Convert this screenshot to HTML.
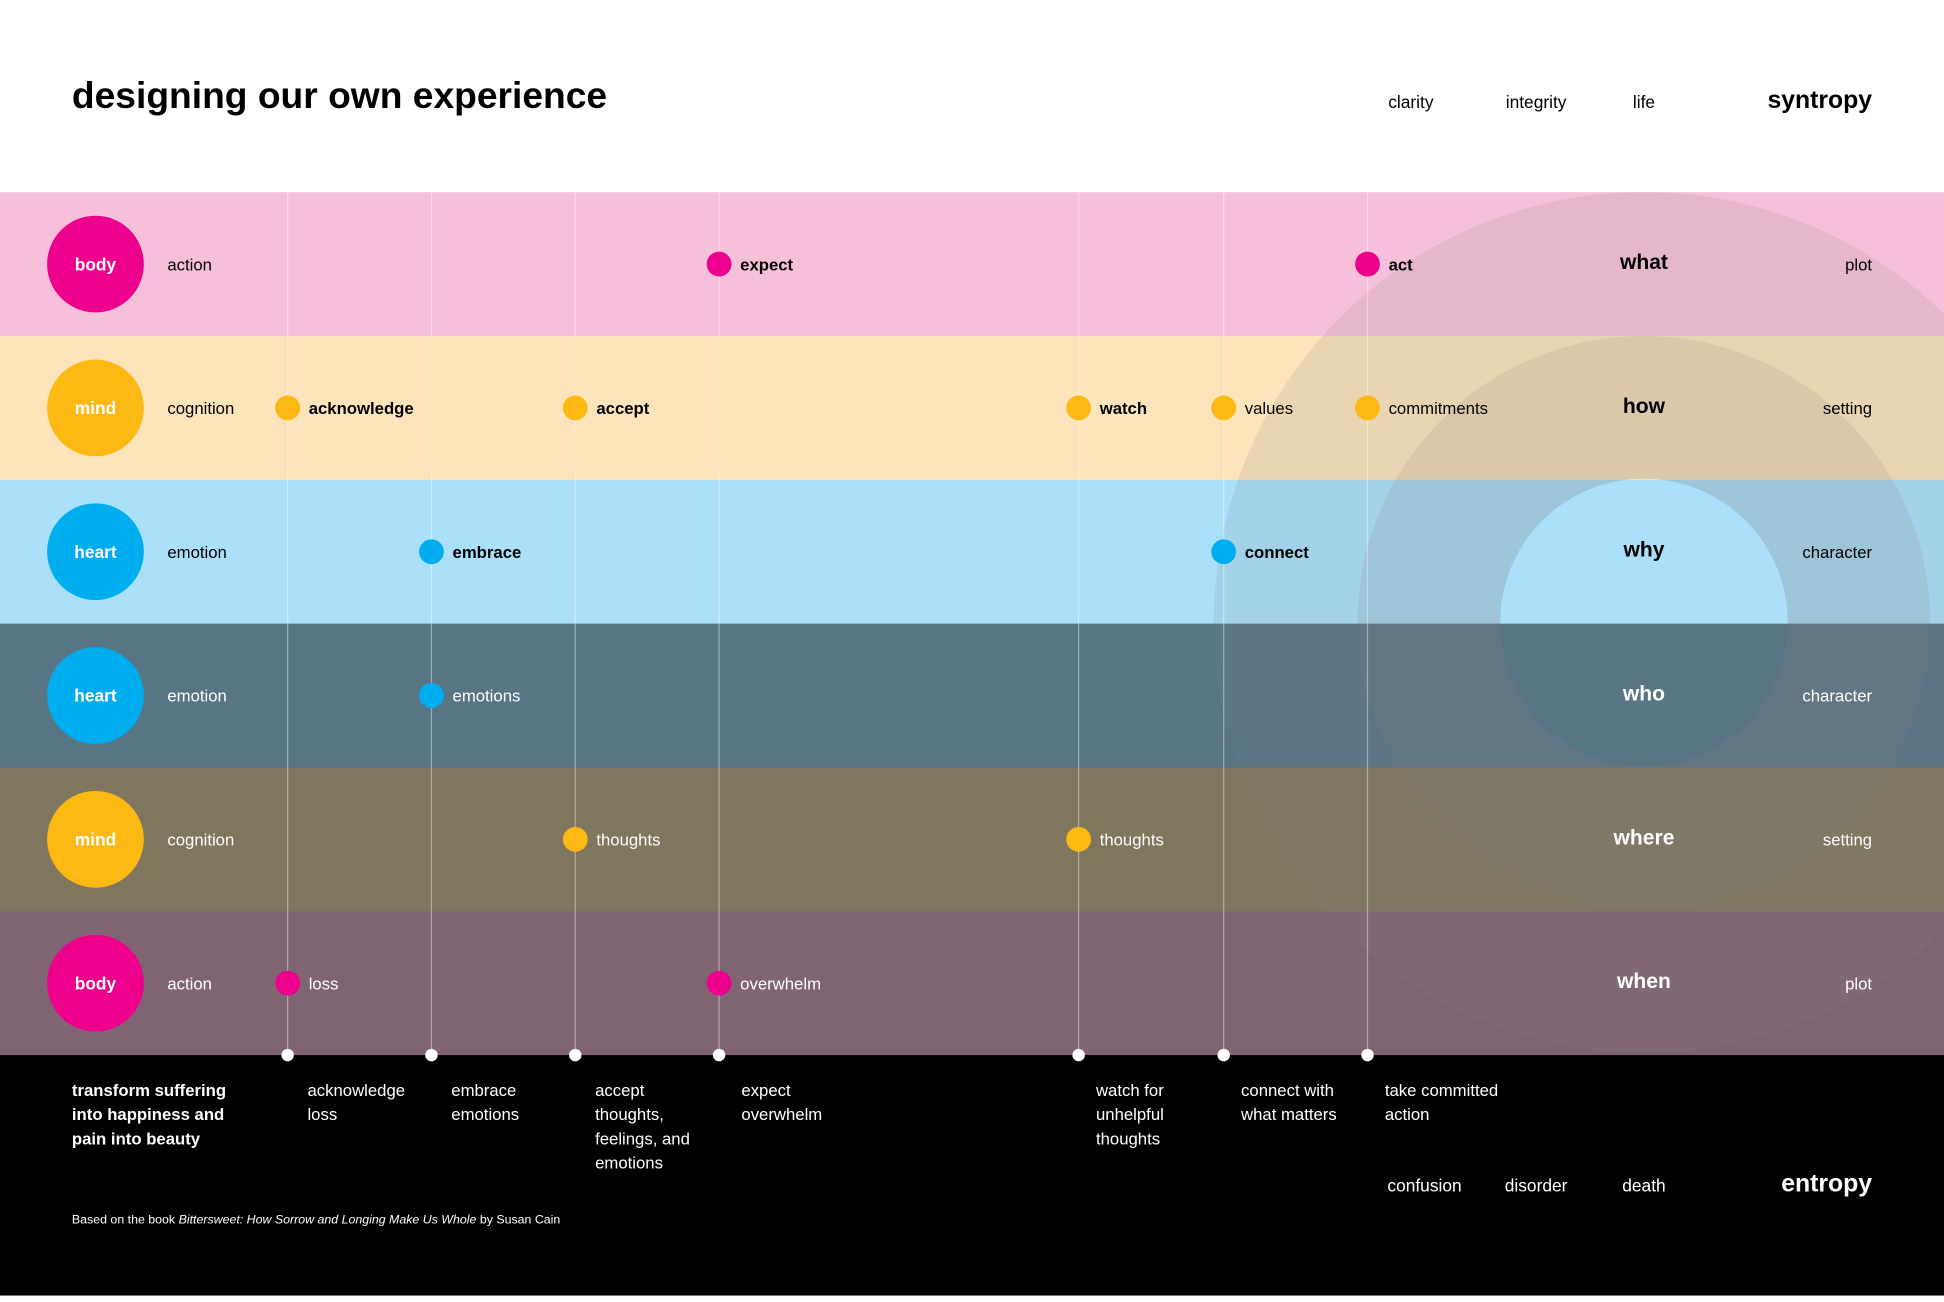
<!DOCTYPE html>
<html><head><meta charset="utf-8"><style>
html,body{margin:0;padding:0;background:#fff;overflow:hidden;width:1944px;height:1296px}
#w{position:absolute;left:0;top:0;width:1568px;height:1045px;transform:scale(1.23980);transform-origin:0 0;font-family:"Liberation Sans",sans-serif}
svg text{font-family:"Liberation Sans",sans-serif}
</style></head><body>
<div id="w">
<svg id="s" width="1568" height="1045" viewBox="0 0 1568 1045">
<rect x="0" y="0" width="1568" height="1045" fill="#fff"/>
<text x="58" y="87" font-size="30" font-weight="bold" fill="#000">designing our own experience</text>
<text x="1138" y="87" font-size="14" text-anchor="middle">clarity</text>
<text x="1239" y="87" font-size="14" text-anchor="middle">integrity</text>
<text x="1326" y="87" font-size="14" text-anchor="middle">life</text>
<text x="1510" y="87" font-size="20" font-weight="bold" text-anchor="end">syntropy</text>
<g id="rows"></g>
<g id="circ"></g>
<g id="rowtext"></g>
<rect x="0" y="851" width="1568" height="194" fill="#000"/>
<g id="lines"></g>
<g id="pts"></g>
<g id="foot"></g>
<text x="58" y="987" font-size="10" fill="#fff">Based on the book <tspan font-style="italic">Bittersweet: How Sorrow and Longing Make Us Whole</tspan> by Susan Cain</text>
<text x="1149" y="961" font-size="14" fill="#fff" text-anchor="middle">confusion</text>
<text x="1239" y="961" font-size="14" fill="#fff" text-anchor="middle">disorder</text>
<text x="1326" y="961" font-size="14" fill="#fff" text-anchor="middle">death</text>
<text x="1510" y="961" font-size="20" font-weight="bold" fill="#fff" text-anchor="end">entropy</text>
</svg>
</div>
<script>
const rowNames=["body","mind","heart","heart","mind","body"];
const rowKinds=["action","cognition","emotion","emotion","cognition","action"];
const rowQuestions=["what","how","why","who","where","when"];
const rowElements=["plot","setting","character","character","setting","plot"];
const stepCols=[0,1,2,3,4,5,6];
const stepLabels=[["acknowledge","loss"],["embrace","emotions"],["accept","thoughts,","feelings, and","emotions"],["expect","overwhelm"],["watch for","unhelpful","thoughts"],["connect with","what matters"],["take committed","action"]];
const pointRows=[0,0,1,1,1,1,1,2,2,3,4,4,5,5];
const pointCols=[3,6,0,2,4,5,6,1,5,1,2,4,0,3];
const pointLabels=["expect","act","acknowledge","accept","watch","values","commitments","embrace","connect","emotions","thoughts","thoughts","loss","overwhelm"];
const pointBold=[1,1,1,1,1,0,0,1,1,0,0,0,0,0];

const NS="http://www.w3.org/2000/svg";
const rowColors=["#f7c0da","#fde4bb","#aae0f9","#577585","#80765d","#806473"];
const dotColors={body:"#ec008c",mind:"#fdb913",heart:"#00aeef"};
const colX=[232,348,464,580,870,987,1103];
const top0=155,rowH=116;
const yRow=i=>top0+rowH*i+rowH/2;
const xCol=c=>colX[c];
function mk(t,a,p){const e=document.createElementNS(NS,t);for(const k in a)e.setAttribute(k,a[k]);p.appendChild(e);return e;}
const R=document.getElementById('rows');
const RT=document.getElementById('rowtext');
rowNames.forEach((n,i)=>{
 const r=mk('rect',{x:0,y:top0+rowH*i,width:1568,height:rowH+0.5,fill:rowColors[i]},R);
 
 
 const tc=i<3?"#000":"#fff";
 const c=mk('circle',{cx:77,cy:yRow(i),r:39,fill:dotColors[n]},RT);
 
 
 let t=mk('text',{x:77,y:yRow(i)+5,'font-size':14,'font-weight':'bold',fill:'#fff','text-anchor':'middle'},RT);t.textContent=n;
 
 
 t=mk('text',{x:135,y:yRow(i)+5,'font-size':13.5,fill:tc},RT);t.textContent=rowKinds[i];
 
 
 t=mk('text',{x:1326,y:yRow(i)+4,'font-size':17,'font-weight':'bold',fill:tc,'text-anchor':'middle'},RT);t.textContent=rowQuestions[i];
 
 
 t=mk('text',{x:1510,y:yRow(i)+5,'font-size':13.5,fill:tc,'text-anchor':'end'},RT);t.textContent=rowElements[i];
 
 
});
const C=document.getElementById('circ');
const defs=mk('defs',{},C);const cp=mk('clipPath',{id:'cp'},defs);mk('rect',{x:0,y:155,width:1568,height:696},cp);
const g=mk('g',{'clip-path':'url(#cp)'},C);
const cx=1326,cy=502;
function ring(R1,R2){return `M${cx-R1},${cy}a${R1},${R1} 0 1,0 ${2*R1},0a${R1},${R1} 0 1,0 ${-2*R1},0Z M${cx-R2},${cy}a${R2},${R2} 0 1,0 ${2*R2},0a${R2},${R2} 0 1,0 ${-2*R2},0Z`;}
let p=mk('path',{d:ring(347,116),'fill-rule':'evenodd',fill:'rgba(128,128,128,0.15)'},g);


p=mk('path',{d:ring(231,116),'fill-rule':'evenodd',fill:'rgba(128,128,128,0.15)'},g);


const L=document.getElementById('lines');
stepCols.forEach(c=>{
 const l=mk('line',{x1:xCol(c),x2:xCol(c),y1:155,y2:851,stroke:'rgba(255,255,255,0.4)','stroke-width':1},L);
 
 
 const d=mk('circle',{cx:xCol(c),cy:851,r:5,fill:'#fff'},L);
 
 
});
const P=document.getElementById('pts');
pointLabels.forEach((lab,i)=>{
 const r=pointRows[i],x=xCol(pointCols[i]),y=yRow(r);
 const d=mk('circle',{cx:x,cy:y,r:10,fill:dotColors[rowNames[r]]},P);
 
 
 const t=mk('text',{x:x+17,y:y+5,'font-size':13.5,'font-weight':pointBold[i]?'bold':'normal',fill:r<3?'#000':'#fff'},P);t.textContent=lab;
 
 
});
const F=document.getElementById('foot');
const intro=["transform suffering","into happiness and","pain into beauty"];
intro.forEach((s,j)=>{const t=mk('text',{x:58,y:884+j*19.5,'font-size':13.5,'font-weight':'bold',fill:'#fff'},F);t.textContent=s;
 
 });
stepLabels.forEach((ls,c)=>{ls.forEach((s,j)=>{const t=mk('text',{x:xCol(c)+16+(c==3?2:0)+(c>=4?-2:0),y:884+j*19.5,'font-size':13.5,fill:'#fff'},F);t.textContent=s;
 
 });});
</script>
</body></html>
